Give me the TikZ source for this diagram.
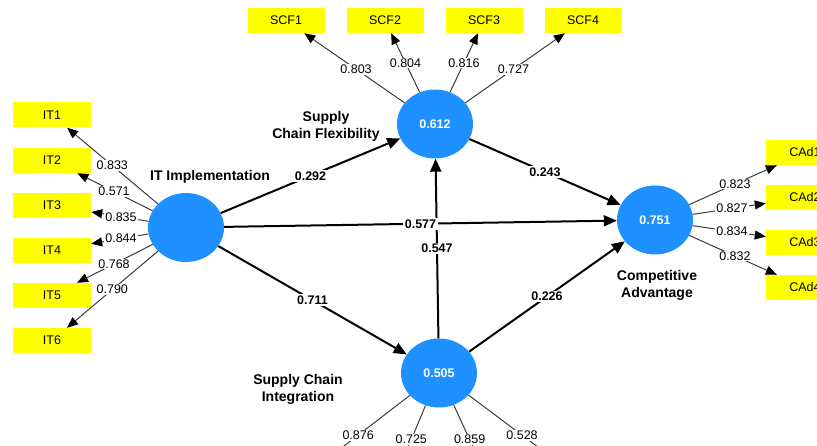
\documentclass[tikz,border=0pt]{standalone}
\usepackage{fontspec}
\setmainfont{Liberation Sans}
\usetikzlibrary{arrows.meta,shapes.geometric}
\definecolor{lvblue}{RGB}{30,144,255}
\definecolor{indyel}{RGB}{255,255,0}
\definecolor{loadgray}{RGB}{60,60,60}
\begin{document}
\begin{tikzpicture}[x=1pt,y=-1pt,
  lv/.style={ellipse,fill=lvblue,minimum width=76pt,minimum height=69pt,inner sep=0pt,text=white,font=\fontsize{12.5}{14}\selectfont\bfseries},
  ind/.style={rectangle,fill=indyel,minimum width=78pt,minimum height=25pt,inner sep=0pt,font=\fontsize{12.5}{14}\selectfont},
  load/.style={draw=loadgray,line width=1pt,-{Triangle[length=11pt,width=9pt,color=black]}},
  plain/.style={draw=loadgray,line width=1pt},
  struct/.style={draw=black,line width=2pt,-{Triangle[length=13pt,width=11pt]}},
  ld/.style={fill=white,inner sep=1pt,font=\fontsize{12.5}{14}\selectfont},
  pc/.style={fill=white,inner sep=1.5pt,font=\fontsize{12.5}{14}\selectfont\bfseries},
  cname/.style={align=center,font=\fontsize{14}{17}\selectfont\bfseries}
]
\useasboundingbox (0,0) rectangle (817,446);
\clip (0,0) rectangle (817,446);
\fill[white] (0,0) rectangle (817,446);

% latent variables
\node[lv] (it)  at (186,227.5) {};
\node[lv] (scf) at (435,124) {0.612};
\node[lv] (ca)  at (655,220) {0.751};
\node[lv] (sci) at (439,373) {0.505};

% construct names
\node[cname] (itn)  at (210,177) {IT Implementation};
\node[cname] (scfn) at (326,126) {Supply\\Chain Flexibility};
\node[cname] (can)  at (657,285) {Competitive\\Advantage};
\node[cname] (scin) at (298,389) {Supply Chain\\Integration};

% indicators
\node[ind] (it1) at (52,115)   {IT1};
\node[ind] (it2) at (52,160.5) {IT2};
\node[ind] (it3) at (52,205.5) {IT3};
\node[ind] (it4) at (52,250.5) {IT4};
\node[ind] (it5) at (52,295.5) {IT5};
\node[ind] (it6) at (52,340.5) {IT6};

\node[ind,minimum width=77pt] (scf1) at (286,20.5) {SCF1};
\node[ind,minimum width=77pt] (scf2) at (385,20.5) {SCF2};
\node[ind,minimum width=77pt] (scf3) at (484,20.5) {SCF3};
\node[ind,minimum width=77pt] (scf4) at (583,20.5) {SCF4};

\node[ind] (ca1) at (805,152.5) {CAd1};
\node[ind] (ca2) at (805,197.5) {CAd2};
\node[ind] (ca3) at (805,242.5) {CAd3};
\node[ind] (ca4) at (805,287.5) {CAd4};

\coordinate (sci1) at (292,486);
\coordinate (sci2) at (392,486);
\coordinate (sci3) at (491,486);
\coordinate (sci4) at (590,486);

% loadings IT
\foreach \n/\p/\v in {it1/0.55/0.833, it2/0.537/0.571, it3/0.485/0.835, it4/0.485/0.844, it5/0.537/0.768, it6/0.55/0.790}{
  \draw[load] (it) -- (\n);
  \path (it.center) -- (\n.center) node[pos=\p,ld]{\v};
}
% loadings SCF
\foreach \n/\p/\v in {scf1/0.53/0.803, scf2/0.59/0.804, scf3/0.59/0.816, scf4/0.53/0.727}{
  \draw[load] (scf) -- (\n);
  \path (scf.center) -- (\n.center) node[pos=\p,ld]{\v};
}
% loadings CA
\foreach \n/\p/\v in {ca1/0.533/0.823, ca2/0.513/0.827, ca3/0.513/0.834, ca4/0.533/0.832}{
  \draw[load] (ca) -- (\n);
  \path (ca.center) -- (\n.center) node[pos=\p,ld]{\v};
}
% loadings SCI
\foreach \n/\p/\v in {sci1/0.55/0.876, sci2/0.59/0.725, sci3/0.59/0.859, sci4/0.55/0.528}{
  \draw[plain] (sci) -- (\n);
  \path (sci.center) -- (\n) node[pos=\p,ld]{\v};
}

% structural paths
\draw[struct] (it) -- (scf);
\path (it.center) -- (scf.center) node[midway,pc]{0.292};
\draw[struct] (scf) -- (ca);
\path (scf.center) -- (ca.center) node[midway,pc]{0.243};
\draw[struct] (sci) -- (scf);
\path (sci.center) -- (scf.center) node[midway,pc]{0.547};
\draw[struct] (it) -- (ca);
\path (it.center) -- (ca.center) node[midway,pc]{0.577};
\draw[struct] (it) -- (sci);
\path (it.center) -- (sci.center) node[midway,pc]{0.711};
\draw[struct] (sci) -- (ca);
\path (sci.center) -- (ca.center) node[midway,pc]{0.226};
\end{tikzpicture}
\end{document}
